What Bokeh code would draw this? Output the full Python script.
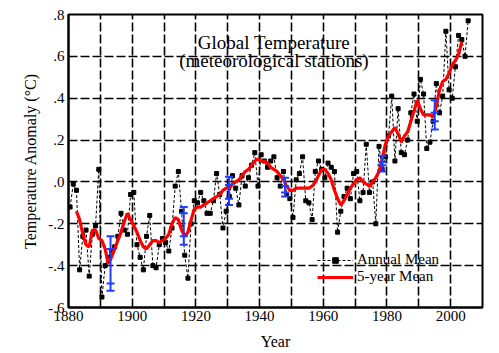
from bokeh.plotting import figure
from bokeh.models import ColumnDataSource, FixedTicker, Label, Legend, LegendItem, Range1d
from bokeh.transform import dodge
from bokeh.embed import file_html
from bokeh.resources import INLINE

# ---- data ----
years = list(range(1880, 2006))
annual_mean = [
    -0.12, -0.01, -0.04, -0.42, -0.26, -0.23, -0.45, -0.25, -0.21, 0.06,   # 1880s
    -0.55, -0.40, -0.36, -0.33, -0.31, -0.26, -0.15, -0.23, -0.25, -0.06,  # 1890s
    -0.05, -0.30, -0.36, -0.42, -0.26, -0.16, -0.40, -0.41, -0.30, -0.27,  # 1900s
    -0.29, -0.33, -0.22, -0.02, 0.05, -0.14, -0.35, -0.46, -0.20, -0.09,   # 1910s
    -0.10, -0.05, -0.09, -0.15, -0.15, -0.09, 0.04, -0.06, -0.22, -0.14,   # 1920s
    -0.07, 0.03, -0.03, -0.11, 0.03, -0.02, 0.02, 0.08, 0.14, -0.02,      # 1930s
    0.13, 0.10, 0.07, 0.10, 0.12, 0.02, -0.02, 0.05, -0.06, -0.08,        # 1940s
    -0.17, 0.01, 0.04, 0.12, -0.09, -0.10, -0.18, 0.05, 0.10, 0.06,       # 1950s
    0.02, 0.09, 0.07, 0.05, -0.24, -0.14, -0.07, -0.03, -0.08, 0.04,      # 1960s
    0.05, -0.09, -0.05, 0.18, -0.05, 0.00, -0.20, 0.17, 0.06, 0.12,       # 1970s
    0.22, 0.41, 0.10, 0.35, 0.14, 0.13, 0.20, 0.33, 0.42, 0.29,           # 1980s
    0.49, 0.42, 0.16, 0.19, 0.29, 0.47, 0.33, 0.41, 0.72, 0.44,           # 1990s
    0.40, 0.55, 0.70, 0.68, 0.60, 0.77,                                   # 2000s
]
mean_years = list(range(1882, 2004))
five_year_mean = [
    -0.14, -0.18, -0.25, -0.30, -0.31, -0.23, -0.23, -0.27,               # 1882-1889
    -0.28, -0.32, -0.39, -0.36, -0.32, -0.28, -0.24, -0.19, -0.15, -0.18,  # 1890s
    -0.21, -0.24, -0.28, -0.31, -0.32, -0.30, -0.28, -0.28, -0.29, -0.28,  # 1900s
    -0.27, -0.25, -0.20, -0.17, -0.18, -0.23, -0.26, -0.24, -0.18, -0.13,  # 1910s
    -0.12, -0.12, -0.11, -0.10, -0.09, -0.08, -0.07, -0.06, -0.04, -0.03,  # 1920s
    -0.03, -0.01, 0.00, 0.01, 0.03, 0.05, 0.06, 0.08, 0.10, 0.11,         # 1930s
    0.10, 0.10, 0.09, 0.07, 0.06, 0.05, 0.03, 0.01, -0.02, -0.04,         # 1940s
    -0.04, -0.03, -0.03, -0.03, -0.03, -0.03, -0.02, 0.00, 0.03, 0.06,    # 1950s
    0.06, 0.04, 0.01, -0.04, -0.08, -0.11, -0.09, -0.06, -0.03, -0.01,    # 1960s
    0.01, 0.02, 0.00, -0.01, -0.02, 0.00, 0.02, 0.05, 0.11, 0.18,         # 1970s
    0.22, 0.24, 0.26, 0.23, 0.19, 0.22, 0.24, 0.29, 0.34, 0.39,           # 1980s
    0.35, 0.32, 0.32, 0.32, 0.31, 0.36, 0.44, 0.48, 0.49, 0.52,           # 1990s
    0.56, 0.58, 0.61, 0.67,                                               # 2000-2003
]
err_years = [1893.2, 1916.2, 1930.4, 1948.0, 1978.6, 1995.0]
err_outer_hi = [-0.26, -0.12, 0.025, 0.02, 0.125, 0.39]
err_inner_hi = [-0.32, -0.15, -0.015, -0.02, 0.095, 0.33]
err_inner_lo = [-0.485, -0.26, -0.08, -0.05, 0.08, 0.29]
err_outer_lo = [-0.52, -0.30, -0.11, -0.07, 0.05, 0.25]

x_ticks = [1880, 1900, 1920, 1940, 1960, 1980, 2000]
x_grid = [1890, 1900, 1910, 1920, 1930, 1940, 1950, 1960, 1970, 1980, 1990, 2000]
y_ticks = [-0.6, -0.4, -0.2, 0.0, 0.2, 0.4, 0.6, 0.8]
y_tick_labels = ["-.6", "-.4", "-.2", ".0", ".2", ".4", ".6", ".8"]
title_lines = ["Global Temperature", "(meteorological stations)"]

FONT = "Liberation Serif"

annual_src = ColumnDataSource(dict(year=years, temp=annual_mean))
mean_src = ColumnDataSource(dict(year=mean_years, temp=five_year_mean))
err_src = ColumnDataSource(dict(year=err_years, ohi=err_outer_hi, ihi=err_inner_hi,
                                ilo=err_inner_lo, olo=err_outer_lo))

p = figure(width=499, height=353, output_backend="svg", toolbar_location=None,
           x_range=Range1d(1880, 2010), y_range=Range1d(-0.6, 0.8),
           min_border_left=68, min_border_right=17, min_border_top=14, min_border_bottom=46)
p.background_fill_color = "white"
p.border_fill_color = "white"
p.outline_line_color = "black"
p.outline_line_width = 2
p.outline_line_alpha = 1

# axes
p.xaxis.ticker = FixedTicker(ticks=x_ticks)
p.yaxis.ticker = FixedTicker(ticks=y_ticks)
p.yaxis.major_label_overrides = {t: l for t, l in zip(y_ticks, y_tick_labels)}
for ax in (p.xaxis, p.yaxis):
    ax.axis_line_color = "black"
    ax.axis_line_width = 2
    ax.major_tick_out = 0
    ax.major_tick_in = 0
    ax.minor_tick_out = 0
    ax.minor_tick_in = 0
    ax.major_label_text_font = FONT
    ax.major_label_text_font_size = "15px"
    ax.major_label_text_color = "black"
    ax.axis_label_text_font = FONT
    ax.axis_label_text_font_size = "16px"
    ax.axis_label_text_font_style = "normal"
    ax.axis_label_text_color = "black"
p.xaxis.major_label_standoff = 3
p.yaxis.major_label_standoff = 4
p.xaxis.axis_label = "Year"
p.yaxis.axis_label = "Temperature Anomaly (\u00b0C)"
p.xaxis.axis_label_standoff = 9
p.yaxis.axis_label_standoff = 6

# grids
p.xgrid.ticker = FixedTicker(ticks=x_grid)
p.ygrid.ticker = FixedTicker(ticks=y_ticks)
for g in (p.xgrid, p.ygrid):
    g.grid_line_color = "black"
    g.grid_line_width = 1.6
    g.grid_line_dash = "9 3"
    g.grid_line_alpha = 1

# annual mean: dashed line with square markers
xa = dodge("year", 0.5, range=p.x_range)
annual_line = p.line(x=xa, y="temp", source=annual_src, line_color="black",
                     line_width=1, line_dash="3 2")
annual_pts = p.scatter(x=xa, y="temp", source=annual_src, marker="square",
                       size=4, fill_color="black", line_color="black")

# 5-year mean
mean_line = p.line(x=dodge("year", 0.5, range=p.x_range), y="temp", source=mean_src,
                   line_color="#ff0000", line_width=3.2)

# error bars
p.segment(x0="year", y0="olo", x1="year", y1="ohi", source=err_src,
          line_color="#1f3cff", line_width=2)
for col in ("ohi", "ihi", "ilo", "olo"):
    p.scatter(x="year", y=col, source=err_src, marker="dash", size=8,
              line_color="#1f3cff", line_width=2)

# title inside the plot
p.add_layout(Label(x=1944.5, y=0.664, text=title_lines[0], text_align="center",
                   text_baseline="middle", text_font=FONT, text_font_size="19px",
                   text_color="black"))
p.add_layout(Label(x=1944.5, y=0.578, text=title_lines[1], text_align="center",
                   text_baseline="middle", text_font=FONT, text_font_size="19px",
                   text_color="black"))

legend = Legend(items=[LegendItem(label="Annual Mean", renderers=[annual_line, annual_pts]),
                       LegendItem(label="5-year Mean", renderers=[mean_line])],
                location=(249, 22), background_fill_alpha=0, border_line_alpha=0,
                glyph_width=36, glyph_height=14, label_height=14, spacing=0,
                padding=0, margin=0, label_standoff=4,
                label_text_font=FONT, label_text_font_size="15px",
                label_text_color="black")
p.add_layout(legend)

open("out.html", "w").write(file_html(p, INLINE))
